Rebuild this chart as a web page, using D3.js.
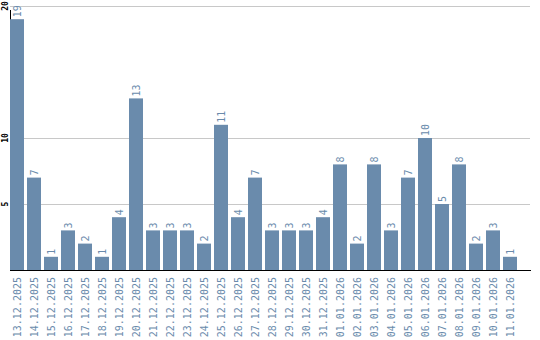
<!DOCTYPE html>
<html lang="en">
  <head>
    <meta charset="utf-8">
    <style>
      body { margin: 0; background: #fff; }
      .grid { stroke: #c8c8c8; stroke-width: 1; }
      .bar { fill: #6a8bac; }
      .val, .xlab { fill: #6a8bac; font-family: "DejaVu Sans Mono", monospace; }
      .ylab { fill: #000; font-family: "DejaVu Sans Mono", monospace; font-weight: bold; font-size: 8px; }
    </style>
  </head>
  <body>
  <script src="https://d3js.org/d3.v7.min.js"></script>
  <script>
  var width = 540;
  var height = 340;

  var dates = ["13.12.2025", "14.12.2025", "15.12.2025", "16.12.2025", "17.12.2025",
    "18.12.2025", "19.12.2025", "20.12.2025", "21.12.2025", "22.12.2025",
    "23.12.2025", "24.12.2025", "25.12.2025", "26.12.2025", "27.12.2025",
    "28.12.2025", "29.12.2025", "30.12.2025", "31.12.2025", "01.01.2026",
    "02.01.2026", "03.01.2026", "04.01.2026", "05.01.2026", "06.01.2026",
    "07.01.2026", "08.01.2026", "09.01.2026", "10.01.2026", "11.01.2026"];
  var counts = [19, 7, 1, 3, 2, 1, 4, 13, 3, 3, 3, 2, 11, 4, 7, 3, 3, 3, 4, 8,
    2, 8, 3, 7, 10, 5, 8, 2, 3, 1];
  var yTicks = [5, 10, 20];

  var svg = d3.select("body")
    .append("svg")
    .attr("width", width)
    .attr("height", height);

  var x = d3.scaleBand()
    .domain(dates)
    .range([10, 517])
    .paddingInner(3 / 17)
    .paddingOuter(0);

  var y = d3.scaleLinear()
    .domain([0, 20])
    .range([270, 6]);

  // gridlines
  svg.selectAll("line.grid")
    .data(yTicks)
    .enter().append("line")
    .attr("class", "grid")
    .attr("x1", 10).attr("x2", 530)
    .attr("y1", function(d) { return Math.round(y(d)) + 0.5; })
    .attr("y2", function(d) { return Math.round(y(d)) + 0.5; });

  // y axis labels
  svg.selectAll("text.ylab")
    .data(yTicks)
    .enter().append("text")
    .attr("class", "ylab")
    .attr("text-anchor", "middle")
    .attr("transform", function(d) { return "translate(8," + y(d) + ") rotate(-90)"; })
    .text(function(d) { return d; });

  // y axis line
  svg.append("line")
    .attr("x1", 10.5).attr("x2", 10.5)
    .attr("y1", 10).attr("y2", 270)
    .attr("stroke", "#000");

  svg.selectAll("rect.bar")
    .data(counts)
    .enter().append("rect")
    .attr("class", "bar")
    .attr("x", function(d, i) { return x(dates[i]); })
    .attr("width", x.bandwidth())
    .attr("y", function(d) { return y(d); })
    .attr("height", function(d) { return y(0) - y(d); });

  // value labels
  svg.selectAll("text.val")
    .data(counts)
    .enter().append("text")
    .attr("class", "val")
    .attr("font-size", "10px")
    .attr("dy", "0.35em")
    .attr("transform", function(d, i) {
      return "translate(" + (x(dates[i]) + x.bandwidth() / 2) + "," + (y(d) - 2) + ") rotate(-90)";
    })
    .text(function(d) { return d; });

  // baseline
  svg.append("line")
    .attr("x1", 10).attr("x2", 531)
    .attr("y1", 270.5).attr("y2", 270.5)
    .attr("stroke", "#000");

  // x labels
  svg.selectAll("text.xlab")
    .data(dates)
    .enter().append("text")
    .attr("class", "xlab")
    .attr("font-size", "10px")
    .attr("text-anchor", "end")
    .attr("dy", "0.35em")
    .attr("transform", function(d) {
      return "translate(" + (x(d) + x.bandwidth() / 2) + ",277) rotate(-90)";
    })
    .text(function(d) { return d; });
  </script>
  </body>
</html>
